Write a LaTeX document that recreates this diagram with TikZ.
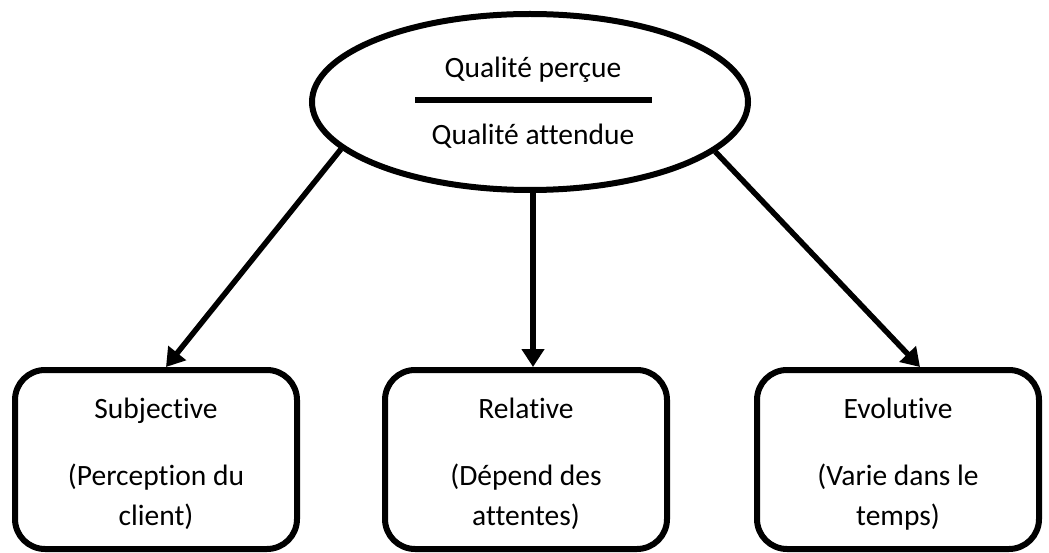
\documentclass[tikz,border=0pt]{standalone}
\usepackage{fontspec}
\setmainfont{Carlito}[Ligatures={NoCommon}]
\usetikzlibrary{arrows.meta,shapes.geometric,calc}
\begin{document}
\begin{tikzpicture}[x=1pt,y=-1pt,
  boxstyle/.style={draw,line width=6pt,rounded corners=30pt,minimum width=282pt,minimum height=179pt,inner sep=0pt},
  txt/.style={font=\fontsize{29.5}{34}\selectfont,anchor=base,inner sep=0pt},
  conn/.style={line width=5.5pt,-{Triangle[length=18pt,width=22pt]}}]
\useasboundingbox (0,0) rectangle (1049,553);
\node[draw,ellipse,line width=6pt,minimum width=436pt,minimum height=176pt,inner sep=0pt] (ell) at (530,102) {};
\node[txt] (q1) at (533,78) {Qualité perçue};
\node[txt] (q2) at (533,145) {Qualité attendue};
\coordinate (fl) at (415,100);
\coordinate (fr) at (652,100);
\draw[line width=6.5pt] (fl) -- (fr);
\node[boxstyle] (b1) at (156,459.5) {};
\node[boxstyle] (b2) at (526,459.5) {};
\node[boxstyle] (b3) at (898,459.5) {};
\node[txt] (s1) at (156,418) {Subjective};
\node[txt] (s2) at (156,485) {(Perception du};
\node[txt] (s3) at (156,525) {client)};
\node[txt] (r1) at (526,418) {Relative};
\node[txt] (r2) at (526,485) {(Dépend des};
\node[txt] (r3) at (526,525) {attentes)};
\node[txt] (e1) at (898,418) {Evolutive};
\node[txt] (e2) at (898,485) {(Varie dans le};
\node[txt] (e3) at (898,525) {temps)};
\draw[conn] (ell.194.5) -- ([xshift=10pt]b1.north);
\draw[conn] ([xshift=3pt]ell.south) -- ([xshift=7pt]b2.north);
\draw[conn] (ell.345.6) -- ([xshift=22pt]b3.north);
\end{tikzpicture}
\end{document}
